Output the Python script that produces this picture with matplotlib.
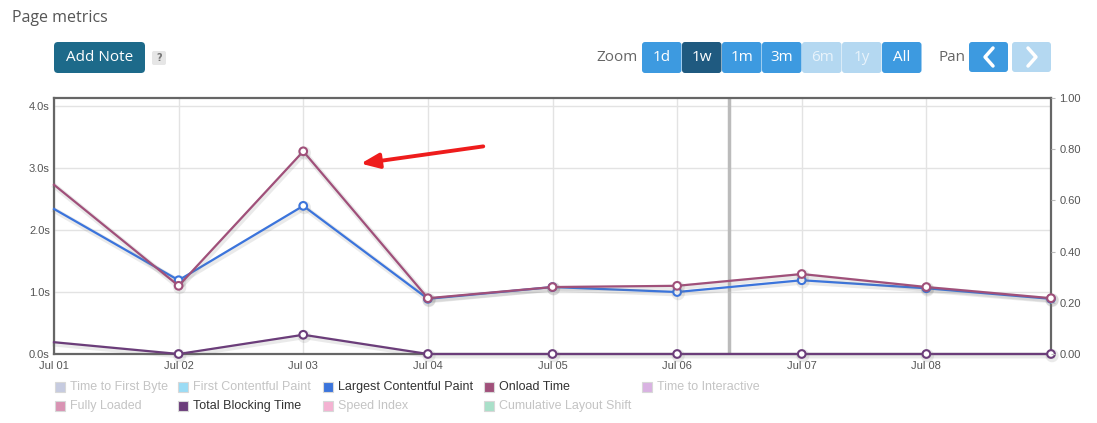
import matplotlib
matplotlib.use('Agg')
import matplotlib.pyplot as plt
import matplotlib.patheffects as pe
from matplotlib.patches import FancyBboxPatch, Rectangle

days = ["Jul 01", "Jul 02", "Jul 03", "Jul 04", "Jul 05", "Jul 06", "Jul 07", "Jul 08", ""]
onload = [2.73, 1.10, 3.27, 0.90, 1.08, 1.10, 1.29, 1.08, 0.90]
lcp = [2.34, 1.19, 2.39, 0.89, 1.08, 1.00, 1.19, 1.06, 0.89]
tbt = [0.19, 0.00, 0.31, 0.00, 0.00, 0.00, 0.00, 0.00, 0.00]
note_day = 5.42

left_ticks = [0, 1, 2, 3, 4]
right_ticks = [0, 0.2, 0.4, 0.6, 0.8, 1.0]

legend_rows = [
    [("Time to First Byte", "#c6cbe0", False), ("First Contentful Paint", "#9bdcf5", False),
     ("Largest Contentful Paint", "#3b74dc", True), ("Onload Time", "#a0507a", True),
     ("Time to Interactive", "#d9b2e2", False)],
    [("Fully Loaded", "#d993b3", False), ("Total Blocking Time", "#6b3d7a", True),
     ("Speed Index", "#f4b2d2", False), ("Cumulative Layout Shift", "#a9e0c9", False)],
]
legend_x = [55, 178, 323, 484, 642]

zoom_btns = ["1d", "1w", "1m", "3m", "6m", "1y", "All"]
zoom_state = ["on", "sel", "on", "on", "off", "off", "on"]

W, H = 1097, 423
fig = plt.figure(figsize=(W / 100, H / 100), dpi=100)

# overlay in pixel coordinates for the UI bits
ui = fig.add_axes([0, 0, 1, 1], zorder=3)
ui.set_xlim(0, W)
ui.set_ylim(H, 0)
ui.axis('off')
ui.patch.set_alpha(0)

ui.text(12, 18, "Page metrics", fontsize=11.5, color="#555555", family="Open Sans", va="center")

ui.add_patch(FancyBboxPatch((54, 42), 91, 31, boxstyle="round,pad=0,rounding_size=4",
                            fc="#1d6a8a", ec="none"))
ui.text(99.5, 57.5, "Add Note", fontsize=11, color="white", family="Open Sans", ha="center", va="center")
ui.add_patch(FancyBboxPatch((152, 51), 14, 14, boxstyle="round,pad=0,rounding_size=2",
                            fc="#e6e6e6", ec="none"))
ui.text(159, 58, "?", fontsize=7, color="#777777", ha="center", va="center", weight="bold")

ui.text(638, 57.5, "Zoom", fontsize=11, color="#666666", family="Open Sans", ha="right", va="center")
cols = {"on": ("#3d9ae0", "white"), "sel": ("#1f5a80", "white"), "off": ("#b4d8f1", "#e8f3fb")}
for i, (lab, st) in enumerate(zip(zoom_btns, zoom_state)):
    x0 = 642 + i * 40
    fc, tc = cols[st]
    ui.add_patch(FancyBboxPatch((x0, 42), 39.5, 31, boxstyle="round,pad=0,rounding_size=3",
                                fc=fc, ec="none"))
    ui.text(x0 + 20, 57.5, lab, fontsize=11, color=tc, family="Open Sans", ha="center", va="center")

ui.text(939, 57.5, "Pan", fontsize=11, color="#666666", family="Open Sans", va="center")
ui.add_patch(FancyBboxPatch((969, 42), 39, 30, boxstyle="round,pad=0,rounding_size=3",
                            fc="#3d9ae0", ec="none"))
ui.add_patch(FancyBboxPatch((1012, 42), 39, 30, boxstyle="round,pad=0,rounding_size=3",
                            fc="#b4d8f1", ec="none"))
ui.plot([993, 985, 993], [48, 57, 66], color="white", lw=2.5, solid_capstyle="round")
ui.plot([1028, 1036, 1028], [48, 57, 66], color="white", lw=2.5, solid_capstyle="round")

for r, row in enumerate(legend_rows):
    y = 387 + r * 19
    for c, (name, col, active) in enumerate(row):
        x = legend_x[c]
        ui.add_patch(Rectangle((x, y - 5), 10, 10, fc=col, ec="#d8d8d8", lw=0.8))
        ui.text(x + 15, y, name, fontsize=9, color="#333333" if active else "#c4c4c4",
                family="Liberation Sans", va="center")

# main chart
ax = fig.add_axes([54 / W, 1 - 354 / H, 997 / W, 256 / H], zorder=2)
ax.patch.set_alpha(0)
xs = list(range(len(days)))
shadow = [pe.SimpleLineShadow(offset=(0.8, -1.2), shadow_color="#777777", alpha=0.15, linewidth=4), pe.Normal()]
mk = dict(marker="o", markersize=5.5, markerfacecolor="white", markeredgewidth=1.5,
          markevery=list(range(1, len(days))), lw=1.6, clip_on=False, path_effects=shadow)
ax.plot(xs, tbt, color="#6b3d7a", zorder=3, **mk)
ax.plot(xs, lcp, color="#3b74dc", zorder=4, **mk)
ax.plot(xs, onload, color="#a0507a", zorder=5, **mk)
ax.axvline(note_day, color="#bbbbbb", lw=2.5, zorder=2)

ax.set_xlim(0, len(days) - 1)
ax.set_ylim(0, 4.13)
ax.set_xticks(xs)
ax.set_xticklabels(days)
ax.set_yticks(left_ticks)
ax.set_yticklabels([f"{v:.1f}s" for v in left_ticks])
ax.grid(True, color="#e3e3e3", lw=1)
ax.set_axisbelow(True)
ax.tick_params(length=0, labelsize=8, labelcolor="#555555", pad=3)
ax.tick_params(axis="x", pad=5)
for lab in ax.get_xticklabels() + ax.get_yticklabels():
    lab.set_family("Liberation Sans")
for s in ax.spines.values():
    s.set_color("#666666")
    s.set_linewidth(1.6)

ax2 = ax.twinx()
ax2.set_ylim(0, 1.0)
ax2.set_yticks(right_ticks)
ax2.set_yticklabels([f"{v:.2f}" for v in right_ticks])
ax2.tick_params(length=3, color="#bbbbbb", labelsize=8, labelcolor="#555555", pad=3)
for lab in ax2.get_yticklabels():
    lab.set_family("Liberation Sans")
for s in ax2.spines.values():
    s.set_visible(False)

# red arrow annotation
ui.annotate("", xy=(358, 164), xytext=(486, 146), zorder=10,
            arrowprops=dict(arrowstyle="-|>,head_length=1.1,head_width=0.45", color="#ee1c1c", lw=2.8))

fig.savefig("out.png", dpi=100)
